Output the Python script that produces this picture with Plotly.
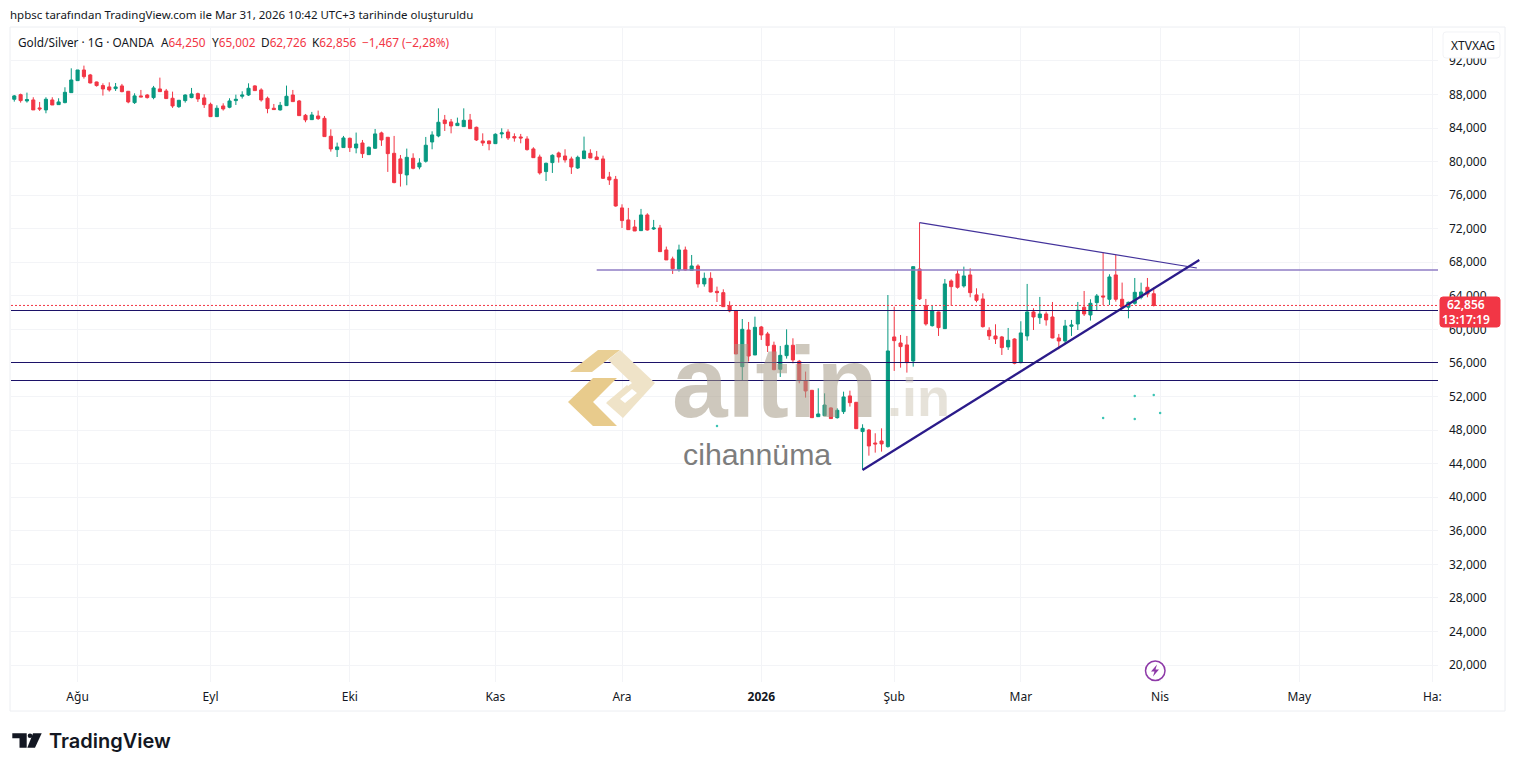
import plotly.graph_objects as go

W, H = 1515, 771
PLOT_W = W - 4  # plotly reserves 4 px on the right, paper fractions are relative to this

opens = [
87430,87980,87230,87350,86400,86160,87350,86790,87030,88220,
89650,90920,90330,89490,89060,88900,88700,89020,88380,87030,
87830,87940,87630,88660,88420,87550,86550,87270,87630,88100,
87590,86830,85360,86630,86480,87270,87790,87940,89020,88540,
87550,86360,86160,86670,87940,87230,85520,85000,85440,85160,
83020,81430,81670,82780,81630,82220,80830,81590,83420,82900,
80990,80320,78410,80400,79360,80040,82340,83060,84960,84730,
84290,84170,84960,84090,82460,82460,82140,83300,83530,82980,
82940,82700,81510,80550,78810,79880,81030,80670,80320,79240,
80360,80990,80550,80320,78170,77890,74480,73050,72210,71770,
73640,71970,72090,69470,68400,67160,69470,67040,67560,65420,
66090,64540,64380,62790,62240,55560,59930,56950,60290,59460,
58110,55250,56870,58110,56200,53890,52740,49600,49720,50640,
49480,50200,52070,51310,47820,48010,46460,46700,46030,59100,
58380,58150,56240,67200,62830,60450,62080,60090,65770,66610,
65180,66490,64110,63630,59890,59220,59100,57910,58860,56040,
59220,62080,61400,61840,61480,58980,58620,60370,60650,62640,
61720,63190,63990,63590,66490,63590,62640,63110,63830,65020,
64250]
highs = [
87940,88100,88220,87670,87110,87670,87670,87550,88860,91120,
90920,91440,90450,89530,89330,89450,89370,89260,88420,88140,
88540,88060,89020,90010,88660,88340,87350,88020,88780,88220,
88020,87030,86710,86950,87550,87980,88380,89330,89100,88740,
87750,86870,87110,89060,88540,87350,85680,85920,86080,85440,
83850,82260,83060,82860,83460,82580,81790,83890,83570,82900,
83060,80790,81550,80990,80400,82940,83610,86350,85560,85080,
85240,86350,85680,84170,83370,82500,83370,83970,83850,83370,
83300,83020,81710,80830,79880,80870,81190,81470,80590,80710,
82980,81470,81270,80710,78770,78290,74910,74480,73050,74360,
73840,73050,72450,69870,68670,70100,69870,68870,67760,66770,
66810,65100,64780,63350,62320,61240,60890,61520,60410,59700,
58540,58030,60010,58940,56360,54970,52780,52980,52380,50720,
50600,52580,52700,51350,48690,48130,47620,48210,64100,62710,
59340,59220,67480,72730,63630,62830,62120,66010,65970,67090,
67480,67280,64900,64300,60250,60610,59220,60170,58940,60970,
65420,62520,63870,62120,63270,59460,61130,61130,63270,64580,
63590,64220,69150,66570,68870,65580,63310,66130,65570,66130,
65002]
lows = [
87150,87030,87030,86150,86040,85760,86750,86790,86950,88220,
89650,89890,89330,88940,87870,88340,88420,88260,86950,86870,
87700,87510,87430,88340,87470,86400,86400,87030,87550,87110,
86400,85320,85320,86080,86360,86750,87510,87830,88460,87150,
85760,86200,86080,86630,87150,85480,84690,84970,84970,82980,
81190,80550,81670,81150,80990,80430,80830,81510,81870,78770,
77420,77020,77180,79080,79080,79880,81470,82900,83650,83370,
84290,84170,83890,82460,81870,81350,82100,82780,82580,82380,
82180,81310,80430,78450,77690,78650,79880,79880,78530,79120,
80320,80430,80200,77930,77220,74630,72090,71850,71730,71730,
71770,71850,69230,68280,66610,66890,67000,67040,64980,65100,
64420,63270,62670,62040,57070,53890,56160,56950,58740,57310,
55130,54330,56520,55960,53580,51870,49450,49600,49680,49320,
49370,49920,50800,48130,43250,44950,45310,45430,45910,55050,
55440,54850,55560,63510,60450,60330,59220,60050,62830,64860,
64980,63830,63230,60210,58740,58260,56950,57550,55840,55960,
58660,59930,60650,60450,58940,57630,58340,59220,59930,61600,
61050,62240,62910,62910,63310,62520,61320,62950,63590,63830,
62726]
closes = [
87830,87270,87390,86160,86280,87430,86750,87110,88260,89730,
90920,90130,89370,89060,88660,88540,88900,88340,87110,87830,
87710,87630,88780,88340,87510,86630,87310,87940,88060,87470,
86790,85360,86360,86280,87230,87430,87940,88740,88460,87350,
86320,86200,86710,87790,87150,85480,84970,85560,85120,82980,
81510,81750,82820,81670,82100,80950,81710,83300,82580,80950,
77500,78570,80510,79200,79840,81950,83180,84690,84530,84250,
84570,84920,83930,82580,82220,82140,83260,83420,82820,82820,
82820,81430,80470,78650,79800,80750,80550,80200,79360,80510,
81270,80430,80240,78010,77810,74710,72970,71890,71730,73640,
71850,72090,69270,68280,67240,69470,67080,67560,65420,66090,
64460,64380,62710,62200,57070,60010,56830,60250,59340,58070,
55200,56910,58110,56360,53890,52660,49480,49920,50990,49370,
50360,51950,51270,48170,48210,46110,46350,46350,57430,58660,
57950,56040,67480,63630,60650,62200,60210,65420,65100,65020,
66370,64380,63470,60330,59220,58860,57830,58700,55960,59580,
62080,61480,61840,61130,58980,58620,60410,60530,62280,61840,
63110,63990,63870,66250,63590,62640,63230,64420,64460,64220,
62856]
day_index = list(range(len(opens)))

month_ticks = [10, 31, 53, 76, 96, 118, 139, 159, 181, 203, 224]
month_labels = ["Ağu", "Eyl", "Eki", "Kas", "Ara", "<b>2026</b>", "Şub", "Mar", "Nis", "May", "Ha:"]
price_ticks = list(range(20000, 92001, 4000))

last_price = 62856
support_levels = [62253, 56055, 53910]
resistance_x = [92, 224.9]
resistance_y = [67080, 67080]
falling_x = [143, 186.8]
falling_y = [72730, 67320]
rising_x = [134, 187.2]
rising_y = [43240, 68270]
dots_x = [111, 172, 177, 180, 177, 181]
dots_y = [48500, 49440, 52060, 52180, 49320, 50040]

X_RANGE = [-0.52, 224.9]
Y_RANGE = [17974, 95924]
FONT = "Noto Sans"
INK = "#131722"
UP, DOWN = "#089981", "#f23645"
GRID = "#f3f4f7"
NAVY = "#1c1268"


def fx(x):
    return x / PLOT_W


def fy(y):
    return 1 - y / H


def poly(points, color, opacity=1.0):
    d = "M " + " L ".join(f"{fx(x):.5f} {fy(y):.5f}" for x, y in points) + " Z"
    return dict(type="path", xref="paper", yref="paper", path=d, fillcolor=color,
                line=dict(width=0), opacity=opacity, layer="above")


def round_box(x0, y0, x1, y1, r, fill, line=None):
    a, b, c, d = fx(x0), fy(y0), fx(x1), fy(y1)
    rx, ry = r / PLOT_W, r / H
    path = (f"M {a+rx:.5f} {b:.5f} L {c-rx:.5f} {b:.5f} Q {c:.5f} {b:.5f} {c:.5f} {b-ry:.5f} "
            f"L {c:.5f} {d+ry:.5f} Q {c:.5f} {d:.5f} {c-rx:.5f} {d:.5f} "
            f"L {a+rx:.5f} {d:.5f} Q {a:.5f} {d:.5f} {a:.5f} {d+ry:.5f} "
            f"L {a:.5f} {b-ry:.5f} Q {a:.5f} {b:.5f} {a+rx:.5f} {b:.5f} Z")
    return dict(type="path", xref="paper", yref="paper", path=path, fillcolor=fill,
                line=dict(color=line or fill, width=1), layer="above")


def note(x, y, text, size=12, color=INK, anchor="left", family=FONT, **kw):
    return dict(xref="paper", yref="paper", x=fx(x), y=fy(y), text=text, showarrow=False,
                xanchor=anchor, yanchor="middle", align=anchor,
                font=dict(size=size, color=color, family=family, **kw))


fig = go.Figure()
fig.add_trace(go.Candlestick(
    x=day_index, open=opens, high=highs, low=lows, close=closes,
    increasing=dict(line=dict(color=UP, width=1), fillcolor=UP),
    decreasing=dict(line=dict(color=DOWN, width=1), fillcolor=DOWN),
    whiskerwidth=0, showlegend=False, hoverinfo="skip",
))
fig.add_trace(go.Scatter(x=resistance_x, y=resistance_y, mode="lines", showlegend=False, hoverinfo="skip",
                         line=dict(color="#8f7cc4", width=1.5)))
fig.add_trace(go.Scatter(x=falling_x, y=falling_y, mode="lines", showlegend=False, hoverinfo="skip",
                         line=dict(color="#43329b", width=1.2)))
fig.add_trace(go.Scatter(x=rising_x, y=rising_y, mode="lines", showlegend=False, hoverinfo="skip",
                         line=dict(color="#2b1b8a", width=2.2)))
fig.add_trace(go.Scatter(x=dots_x, y=dots_y, mode="markers", showlegend=False, hoverinfo="skip",
                         marker=dict(color="#3cc4b4", size=2.5)))

shapes = []
# outer frame
shapes.append(dict(type="rect", xref="paper", yref="paper", x0=fx(10), x1=fx(1505), y0=fy(711), y1=fy(27),
                   line=dict(color="#eceef2", width=1), layer="below"))
# levels
for lvl in support_levels:
    shapes.append(dict(type="line", xref="x", yref="y", x0=X_RANGE[0], x1=X_RANGE[1], y0=lvl, y1=lvl,
                       line=dict(color=NAVY, width=1), layer="above"))
shapes.append(dict(type="line", xref="x", yref="y", x0=X_RANGE[0], x1=X_RANGE[1], y0=last_price, y1=last_price,
                   line=dict(color=DOWN, width=1, dash="2px,2px"), layer="above"))

# gold logo of the watermark
shapes += [
    poly([(570, 372), (598, 350), (620, 350), (592, 372)], "#e9cf95"),
    poly([(568, 402), (593, 378), (617, 378), (593, 402), (617, 426), (593, 426)], "#e8cb8c"),
    poly([(620, 350), (655, 383), (623, 418), (606, 403), (632, 383), (608, 360)], "#efe3c8"),
    poly([(607, 402), (627, 385), (636, 393), (618, 410)], "#efe3c8"),
    poly([(620, 399), (632, 389), (637, 393), (625, 403)], "#ffffff"),
]

# boxes on the price scale
shapes.append(round_box(1443, 32, 1500, 58, 3, "#ffffff", "#f2f3f6"))
shapes.append(round_box(1440, 297, 1500, 327, 3, DOWN))

# lightning icon
shapes.append(dict(type="circle", xref="paper", yref="paper", x0=fx(1145.5), x1=fx(1165), y0=fy(680.5), y1=fy(661),
                   fillcolor="white", line=dict(color="#8e3aa8", width=1.5), layer="above"))
shapes.append(poly([(1157, 664.5), (1151, 671.5), (1154.5, 671.5), (1153, 676.5), (1159, 669.5), (1155.5, 669.5)],
                   "#8e3aa8"))

# TradingView glyph
shapes += [
    poly([(12.3, 733.3), (26.7, 733.3), (26.7, 747.7), (19.5, 747.7), (19.5, 738.3), (12.3, 738.3)], INK),
    poly([(33, 733.3), (41.7, 733.3), (35, 747.7), (27.3, 747.7)], INK),
    dict(type="circle", xref="paper", yref="paper", x0=fx(27.7), x1=fx(32.3), y0=fy(738), y1=fy(733.4),
         fillcolor=INK, line=dict(width=0), layer="above"),
]

RED = f'style="color:{DOWN}"'
annotations = [
    note(8, 14.5, "hpbsc tarafından TradingView.com ile Mar 31, 2026 10:42 UTC+3 tarihinde oluşturuldu", size=11.5),
    note(16, 42, "Gold/Silver · 1G · OANDA", size=11.8),
    note(159, 42, f'A<span {RED}>64,250</span>', size=11.8),
    note(210, 42, f'Y<span {RED}>65,002</span>', size=11.8),
    note(259, 42, f'D<span {RED}>62,726</span>', size=11.8),
    note(310, 42, f'K<span {RED}>62,856</span>', size=11.8),
    note(360, 42, f'<span {RED}>−1,467 (−2,28%)</span>', size=11.8),
    note(1473, 45, "XTVXAG", anchor="center"),
    note(1466, 305, "62,856", color="white", anchor="center", weight=600),
    note(1466, 319, "13:17:19", color="white", anchor="center", weight=600),
    note(47, 741, "TradingView", size=20, family="Inter", weight=600),
    note(670, 382, "altin", size=100, color="rgba(165,155,135,0.55)", family="Liberation Sans", weight=700),
    note(885, 397, ".in", size=54, color="rgba(205,198,180,0.5)", family="Liberation Sans", weight=700),
    note(681, 454, "cihannüma", size=30.3, color="#7d7d7d", family="Liberation Sans"),
]

fig.update_layout(
    width=W, height=H, autosize=False,
    margin=dict(l=0, r=0, t=0, b=0),
    paper_bgcolor="white", plot_bgcolor="white",
    font=dict(family=FONT, size=12, color=INK),
    showlegend=False, dragmode=False,
    shapes=shapes, annotations=annotations,
    xaxis=dict(domain=[fx(11), fx(1438)], range=X_RANGE, type="linear", rangeslider=dict(visible=False),
               tickmode="array", tickvals=month_ticks, ticktext=month_labels, showgrid=True, gridcolor=GRID,
               gridwidth=1, zeroline=False, showline=False, ticks="", ticklabelstandoff=6, fixedrange=True,
               tickfont=dict(size=12, color=INK, family=FONT)),
    yaxis=dict(domain=[fy(682), fy(28)], range=Y_RANGE, side="right", tickmode="array", tickvals=price_ticks,
               tickformat=",.0f", showgrid=True, gridcolor=GRID, gridwidth=1, zeroline=False, showline=False,
               ticks="", ticklabelstandoff=10, fixedrange=True, tickfont=dict(size=12, color=INK, family=FONT)),
)

fig.write_html("out.html", config={"displayModeBar": False},
               post_script="document.body.style.margin='0';document.body.style.overflow='hidden';")
